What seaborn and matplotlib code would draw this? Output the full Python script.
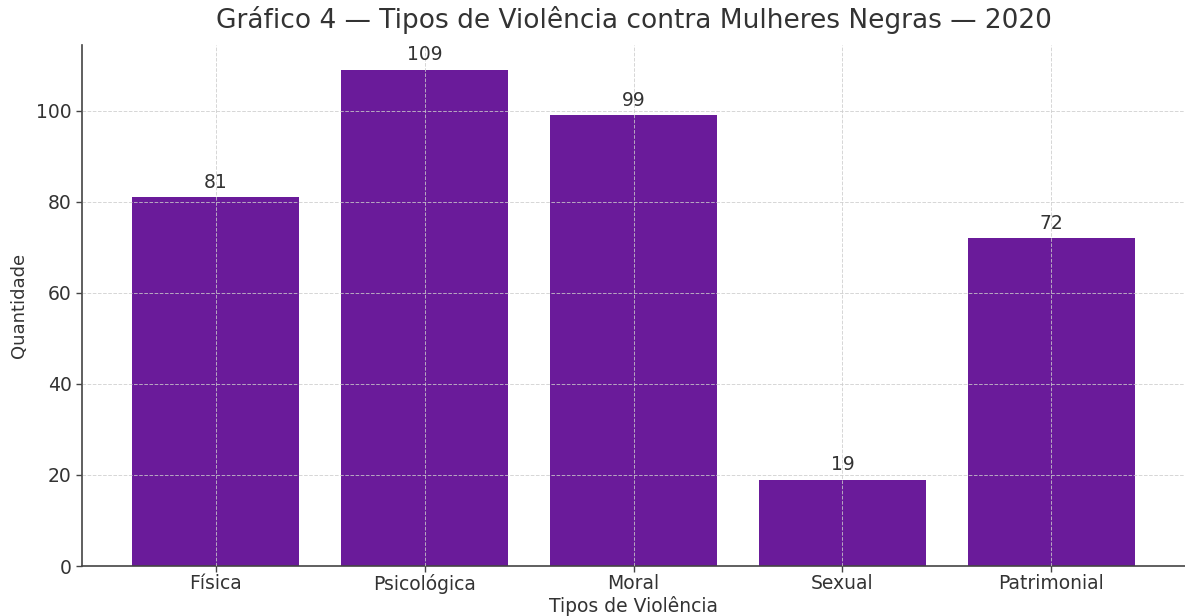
import matplotlib
matplotlib.use("Agg")
import matplotlib.pyplot as plt
import seaborn as sns
import pandas as pd

categorias = ["Física", "Psicológica", "Moral", "Sexual", "Patrimonial"]
quantidades = [81, 109, 99, 19, 72]

sns.set_theme(style="white")
plt.rcParams['font.family'] = ['DejaVu Sans']
plt.rcParams['text.color'] = '#333333'
plt.rcParams['axes.labelcolor'] = '#333333'
plt.rcParams['xtick.color'] = '#333333'
plt.rcParams['ytick.color'] = '#333333'

df = pd.DataFrame({"Tipo": categorias, "Quantidade": quantidades})

fig = plt.figure(figsize=(11.85, 6.16), dpi=100)
ax = fig.add_axes([82/1185, 1-566/616, 1-82/1185, (566-45)/616])

sns.barplot(data=df, x="Tipo", y="Quantidade", color="#6a1b9a", saturation=1,
            width=0.8, ax=ax, zorder=1)
for p in ax.patches:
    p.set_edgecolor("none")

ax.set_xlim(-0.64, 4.64)
ax.set_ylim(0, 109*1.05)
ax.set_yticks([0, 20, 40, 60, 80, 100])

ax.set_axisbelow(False)
ax.grid(True, linestyle="--", linewidth=0.7, color="#cccccc", alpha=0.8, zorder=2)

for i, v in enumerate(quantidades):
    ax.text(i, v + 1.2, str(v), ha="center", va="bottom", fontsize=13.5, color="#333333")

ax.spines["top"].set_visible(False)
ax.spines["right"].set_visible(False)
for s in ["left", "bottom"]:
    ax.spines[s].set_color("#444444")
    ax.spines[s].set_linewidth(1.2)
ax.tick_params(axis="both", which="both", length=4, width=1, labelsize=13.5,
               color="#444444", bottom=True, left=True)
ax.tick_params(axis="x", pad=2)

ax.set_xlabel("Tipos de Violência", fontsize=13.5, labelpad=1)
ax.set_ylabel("Quantidade", fontsize=13, labelpad=6)
ax.set_title("Gráfico 4 — Tipos de Violência contra Mulheres Negras — 2020",
             fontsize=19, pad=12, color="#333333")

fig.savefig("out.png", dpi=100)
